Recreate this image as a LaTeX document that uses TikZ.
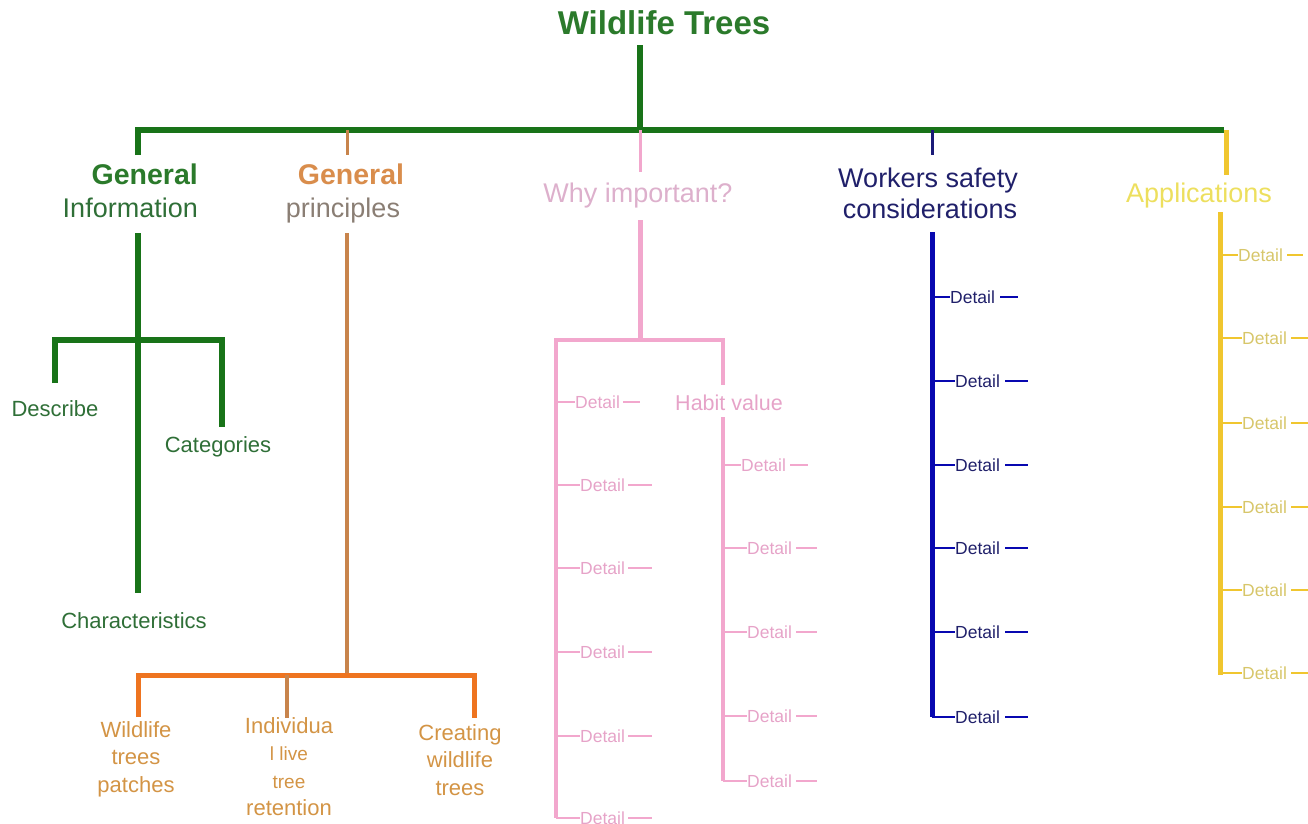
\documentclass[tikz,border=0pt]{standalone}
\usepackage{fontspec}
\setmainfont{Liberation Sans}
\usetikzlibrary{positioning}
\definecolor{wtgreen}{HTML}{187318}
\definecolor{wtgreentxt}{HTML}{2B7A2B}
\definecolor{wtleaf}{HTML}{2F6F37}
\definecolor{gpstub}{HTML}{C8844C}
\definecolor{gpbar}{HTML}{EE7420}
\definecolor{gptxt}{HTML}{D98D4C}
\definecolor{gpgrey}{HTML}{8A7E74}
\definecolor{gpleaf}{HTML}{D39445}
\definecolor{wiline}{HTML}{F2A7CD}
\definecolor{witxt}{HTML}{E6A3C8}
\definecolor{wihead}{HTML}{DDB0CC}
\definecolor{wsstub}{HTML}{1B1B78}
\definecolor{wsline}{HTML}{0808B0}
\definecolor{wstxt}{HTML}{20206A}
\definecolor{apline}{HTML}{F0C62F}
\definecolor{aphead}{HTML}{EDDF5E}
\definecolor{aptxt}{HTML}{D7C66A}
\tikzset{
  topic/.style={font=\fontsize{33}{36}\selectfont\bfseries, text=wtgreentxt, inner sep=0pt, anchor=base},
  headb/.style={font=\fontsize{28.5}{32}\selectfont\bfseries, inner sep=0pt, anchor=base},
  head/.style={font=\fontsize{27}{30}\selectfont, inner sep=0pt, anchor=base},
  leaf/.style={font=\fontsize{22}{28}\selectfont, inner sep=0pt, anchor=base},
  leafbox/.style={font=\fontsize{22}{27.5}\selectfont, inner sep=0pt, align=center, anchor=north, text=gpleaf},
  detail/.style={font=\fontsize{17.5}{20}\selectfont, inner sep=0pt, anchor=west},
  trunk/.style={draw=wtgreen, line width=5.5pt},
  spine/.style={line width=5pt},
  stub/.style={line width=3pt},
  tick/.style={line width=2.5pt}
}

\begin{document}
\begin{tikzpicture}[x=1pt, y=-1pt]
  \useasboundingbox (0,0) rectangle (1308,823);

  % Root and main bar
  \node[topic] (wt) at (664,34) {Wildlife Trees};
  \coordinate (root) at (640,45);
  \coordinate (hub) at (640,130);
  \coordinate (gi-b) at (138,130);
  \coordinate (gp-b) at (347,130);
  \coordinate (ws-b) at (932,130);
  \coordinate (ap-b) at (1224,130);
  \coordinate (gi-s) at (138,155);
  \draw[trunk] (root) -- (hub);
  \draw[trunk] (gi-s) -- (gi-b) -- (ap-b);

  % General Information
  \node[headb, anchor=base east, text=wtgreentxt] (gi1) at (198,184) {General};
  \node[head, anchor=base east, text=wtleaf] (gi2) at (198,217) {Information};
  \coordinate (gi-top) at (138,233);
  \coordinate (gi-x) at (138,340);
  \coordinate (gi-end) at (138,593);
  \coordinate (gi-l) at (55,383);
  \coordinate (gi-r) at (222,427);
  \node[leaf, text=wtleaf] (desc) at (55,416) {Describe};
  \node[leaf, text=wtleaf] (cat) at (218,452) {Categories};
  \node[leaf, text=wtleaf] (chr) at (134,628) {Characteristics};
  \draw[trunk] (gi-top) -- (gi-end);
  \draw[trunk] (gi-l) -- (gi-l |- gi-x) -- (gi-r |- gi-x) -- (gi-r);

  % General principles
  \coordinate (gp-s) at (347,155);
  \draw[stub, gpstub] (gp-b) -- (gp-s);
  \node[headb, text=gptxt] (gp1) at (351,184) {General};
  \node[head, text=gpgrey] (gp2) at (343,217) {principles};
  \coordinate (gp-top) at (347,233);
  \coordinate (gp-x) at (347,675);
  \node[leafbox] (patch) at (136,721) {Wildlife\\trees\\patches};
  \node[leafbox] (live) at (289,717) {Individua\\{\fontsize{19}{27.5}\selectfont l live}\\{\fontsize{19}{27.5}\selectfont tree}\\retention};
  \node[leafbox] (create) at (460,724) {Creating\\wildlife\\trees};
  \coordinate (gp-l) at (138,717);
  \coordinate (gp-m) at (287,718);
  \coordinate (gp-r) at (474,718);
  \draw[spine, line width=4pt, gpstub] (gp-top) -- (gp-x);
  \draw[spine, gpbar] (gp-l) -- (gp-l |- gp-x) -- (gp-r |- gp-x) -- (gp-r);
  \draw[stub, line width=3.5pt, gpstub] (gp-m |- gp-x) -- (gp-m);

  % Why important?
  \coordinate (wi-s) at (640,172);
  \draw[stub, wiline] (hub) -- (wi-s);
  \node[head, text=wihead] (wi) at (638,202) {Why important?};
  \coordinate (wi-top) at (640,220);
  \coordinate (wi-x) at (640,340);
  \coordinate (wi-l) at (556,818);
  \coordinate (wi-r) at (723,385);
  \draw[spine, wiline] (wi-top) -- (wi-x);
  \draw[spine, line width=4.5pt, wiline] (wi-l) -- (wi-l |- wi-x) -- (wi-r |- wi-x) -- (wi-r);
  \node[leaf, font=\fontsize{21.5}{24}\selectfont, text=witxt] (hv) at (729,410) {Habit value};
  \coordinate (hv-top) at (723,417);
  \coordinate (hv-end) at (723,781);
  \draw[spine, line width=4pt, wiline] (hv-top) -- (hv-end);
  \foreach \x/\y/\d [count=\i] in {575/402/17, 580/485/24, 580/568/24, 580/652/24, 580/736/24, 580/818/24}{
    \node[detail, text=witxt] (wl\i) at (\x,\y) {Detail};
    \draw[tick, wiline] (wi-l |- wl\i.west) -- (wl\i.west);
    \draw[tick, wiline] ([xshift=3pt]wl\i.east) -- ++(\d,0);
  }
  \foreach \x/\y/\d [count=\i] in {741/465/18, 747/548/21, 747/632/21, 747/716/21, 747/781/21}{
    \node[detail, text=witxt] (wr\i) at (\x,\y) {Detail};
    \draw[tick, wiline] (hv-top |- wr\i.west) -- (wr\i.west);
    \draw[tick, wiline] ([xshift=4pt]wr\i.east) -- ++(\d,0);
  }

  % Workers safety considerations
  \coordinate (ws-s) at (932,155);
  \draw[stub, wsstub] (ws-b) -- (ws-s);
  \node[head, text=wstxt] (ws1) at (928,187) {Workers safety};
  \node[head, text=wstxt] (ws2) at (930,218) {considerations};
  \coordinate (ws-top) at (932,232);
  \coordinate (ws-end) at (932,717);
  \draw[spine, wsline] (ws-top) -- (ws-end);
  \foreach \x/\y/\d [count=\i] in {950/297/18, 955/381/23, 955/465/23, 955/548/23, 955/632/23, 955/717/23}{
    \node[detail, text=wstxt] (wd\i) at (\x,\y) {Detail};
    \draw[tick, wsline] (ws-top |- wd\i.west) -- (wd\i.west);
    \draw[tick, wsline] ([xshift=5pt]wd\i.east) -- ++(\d,0);
  }

  % Applications
  \coordinate (ap-c) at (1226,130);
  \coordinate (ap-s) at (1226,175);
  \draw[spine, apline] (ap-c) -- (ap-s);
  \node[head, text=aphead] (ap) at (1199,202) {Applications};
  \coordinate (ap-top) at (1220,212);
  \coordinate (ap-end) at (1220,675);
  \draw[spine, apline] (ap-top) -- (ap-end);
  \foreach \x/\y/\d [count=\i] in {1238/255/16, 1242/338/20, 1242/423/20, 1242/507/20, 1242/590/20, 1242/673/20}{
    \node[detail, text=aptxt] (ad\i) at (\x,\y) {Detail};
    \draw[tick, apline] (ap-top |- ad\i.west) -- (ad\i.west);
    \draw[tick, apline] ([xshift=4pt]ad\i.east) -- ++(\d,0);
  }
\end{tikzpicture}
\end{document}
